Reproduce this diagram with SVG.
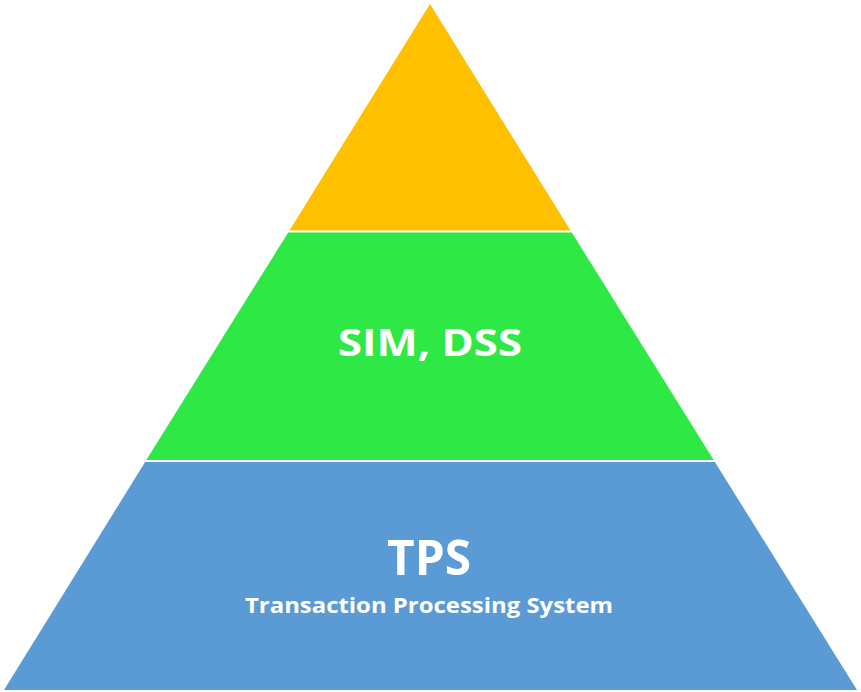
<svg xmlns="http://www.w3.org/2000/svg" width="861" height="692" viewBox="0 0 861 692">
<style>
.lbl{font-family:"Open Sans","Liberation Sans",sans-serif;font-weight:bold;fill:#ffffff;text-anchor:middle}
</style>
<rect width="861" height="692" fill="#ffffff"/>
<g id="top">
<polygon points="430,4 570.6,230.5 289.4,230.5" fill="#FFC000"/>
</g>
<g id="middle">
<polygon points="288.2,232.5 571.8,232.5 713.7,460 146.3,460" fill="#2EE846"/>
<text class="lbl" x="430" y="356" font-size="38" textLength="184" lengthAdjust="spacingAndGlyphs">SIM, DSS</text>
</g>
<g id="bottom">
<polygon points="145.1,462 714.9,462 857,690 4,690" fill="#5B9BD5"/>
<text class="lbl" x="429" y="575" font-size="49" textLength="84" lengthAdjust="spacingAndGlyphs">TPS</text>
<text class="lbl" x="429" y="613" font-size="21" textLength="368" lengthAdjust="spacingAndGlyphs">Transaction Processing System</text>
</g>
<g id="connectors"></g>
</svg>
